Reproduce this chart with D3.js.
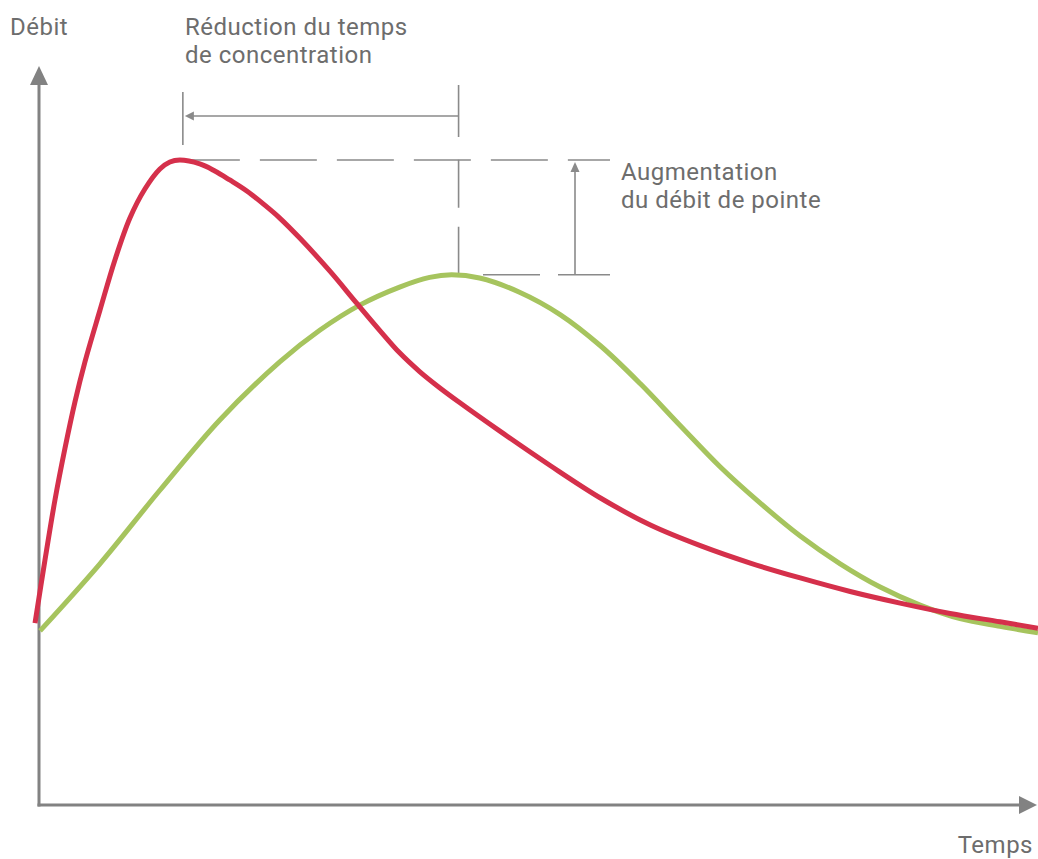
<!DOCTYPE html>
<html><head><meta charset="utf-8">
<script src="https://cdn.jsdelivr.net/npm/d3@7"></script>
<style>
html,body{margin:0;padding:0;background:#fff;}
svg text{font-family:Roboto,"Liberation Sans",sans-serif;fill:#6d6d6d;letter-spacing:0.5px;}
</style></head>
<body>
<svg id="chart" width="1038" height="859"></svg>
<script>
// Hydrogramme schématique (unités arbitraires : temps 0–100, débit 0–100)
const timeAfter  = [-0.4, 0.6, 1.6, 2.6, 3.6, 4.6, 6.1, 7.6, 9.1, 10.6, 12.1, 13.1, 14.1, 16.1, 17.6, 19.1, 20.8, 22.6, 24.1, 26.1, 29.1, 31.8, 34.1, 36.1, 38.1, 40.1, 42.1, 46.1, 51.2, 56.2, 61.2, 66.2, 71.2, 76.2, 81.2, 86.2, 91.2, 96.2, 100];
const flowAfter  = [28.2, 38.0, 47.3, 55.3, 62.5, 68.7, 76.7, 84.5, 91.0, 95.5, 98.6, 99.7, 100, 99.4, 98.3, 96.9, 95.2, 93.0, 91.0, 87.9, 82.8, 77.8, 73.6, 70.1, 67.2, 64.7, 62.4, 58.0, 52.6, 47.6, 43.4, 40.2, 37.5, 35.2, 33.1, 31.3, 29.7, 28.4, 27.4];
const timeBefore = [0.1, 6.1, 12.1, 18.1, 24.1, 28.1, 32.1, 36.1, 39.1, 41.3, 44.1, 48.1, 52.2, 56.2, 60.2, 64.2, 68.2, 72.2, 76.2, 80.2, 84.2, 88.2, 92.2, 96.2, 100];
const flowBefore = [27.0, 37.4, 48.8, 59.7, 68.7, 73.6, 77.5, 80.3, 81.8, 82.2, 81.7, 79.5, 76.0, 71.2, 65.3, 58.8, 52.4, 46.8, 41.7, 37.4, 33.8, 31.0, 28.9, 27.7, 26.7];
const peakTimes  = [14.4, 42.0];   // temps de pointe (après, avant)
const peakFlows  = [100, 82.2];    // débit de pointe (après, avant)
const labels = {
  yAxis: "Débit",
  xAxis: "Temps",
  reduction: ["Réduction du temps", "de concentration"],
  augmentation: ["Augmentation", "du débit de pointe"]
};

const svg = d3.select("#chart");
const x = d3.scaleLinear().domain([0, 100]).range([39, 1038]);
const y = d3.scaleLinear().domain([0, 100]).range([805, 160]);

const axisColor = "#828282";
const annColor = "#8a8a8a";

// axes
svg.append("line").attr("x1", x(0)).attr("x2", x(0)).attr("y1", y(0) + 1.5).attr("y2", 82)
  .attr("stroke", axisColor).attr("stroke-width", 3);
svg.append("path").attr("d", `M${x(0)},66 L${x(0) - 9},85 L${x(0) + 9},85 Z`).attr("fill", axisColor);
svg.append("line").attr("x1", x(0) - 1.5).attr("x2", 1022).attr("y1", y(0)).attr("y2", y(0))
  .attr("stroke", axisColor).attr("stroke-width", 3);
svg.append("path").attr("d", `M1037,${y(0)} L1019,${y(0) - 9} L1019,${y(0) + 9} Z`).attr("fill", axisColor);

// axis labels
svg.append("text").attr("x", 10).attr("y", 35).attr("font-size", 24).text(labels.yAxis);
svg.append("text").attr("x", 1033).attr("y", 853).attr("text-anchor", "end").attr("font-size", 24).text(labels.xAxis);

// annotations
const ann = svg.append("g").attr("stroke", annColor).attr("stroke-width", 1.6).attr("fill", "none");
const xa = x(peakTimes[0]), xb = x(peakTimes[1]);
const ya = y(peakFlows[0]), yb = y(peakFlows[1]);
// time reduction arrow
ann.append("line").attr("x1", xa).attr("x2", xa).attr("y1", 92).attr("y2", 145);
ann.append("line").attr("x1", xb).attr("x2", xb).attr("y1", 85).attr("y2", 137);
ann.append("line").attr("x1", xa + 8).attr("x2", xb).attr("y1", 116).attr("y2", 116);
svg.append("path").attr("d", `M${xa + 2},116 L${xa + 11},111.5 L${xa + 11},120.5 Z`).attr("fill", annColor);
// dashed guides
ann.append("line").attr("x1", xa).attr("x2", 610).attr("y1", ya).attr("y2", ya).attr("stroke-dasharray", "57,20");
ann.append("line").attr("x1", xb).attr("x2", xb).attr("y1", yb).attr("y2", 155).attr("stroke-dasharray", "48,19");
ann.append("line").attr("x1", 483).attr("x2", 610).attr("y1", yb).attr("y2", yb).attr("stroke-dasharray", "57,18");
// peak increase arrow
const xv = 575;
ann.append("line").attr("x1", xv).attr("x2", xv).attr("y1", yb).attr("y2", ya + 10);
svg.append("path").attr("d", `M${xv},${ya + 2} L${xv - 4.5},${ya + 12} L${xv + 4.5},${ya + 12} Z`).attr("fill", annColor);

// annotation texts
const t1 = svg.append("text").attr("font-size", 24);
labels.reduction.forEach((s, i) => t1.append("tspan").attr("x", 185).attr("y", 35 + i * 28).text(s));
const t2 = svg.append("text").attr("font-size", 24);
labels.augmentation.forEach((s, i) => t2.append("tspan").attr("x", 621).attr("y", 180 + i * 28).text(s));

// curves
const line = d3.line().x(d => x(d[0])).y(d => y(d[1])).curve(d3.curveCatmullRom.alpha(0.5));
const before = timeBefore.map((t, i) => [t, flowBefore[i]]);
const after = timeAfter.map((t, i) => [t, flowAfter[i]]);
svg.append("path").datum(before).attr("d", line).attr("fill", "none")
  .attr("stroke", "#a6c45e").attr("stroke-width", 5).attr("stroke-linecap", "butt");
svg.append("path").datum(after).attr("d", line).attr("fill", "none")
  .attr("stroke", "#d5304b").attr("stroke-width", 5).attr("stroke-linecap", "butt");
</script>
</body></html>
